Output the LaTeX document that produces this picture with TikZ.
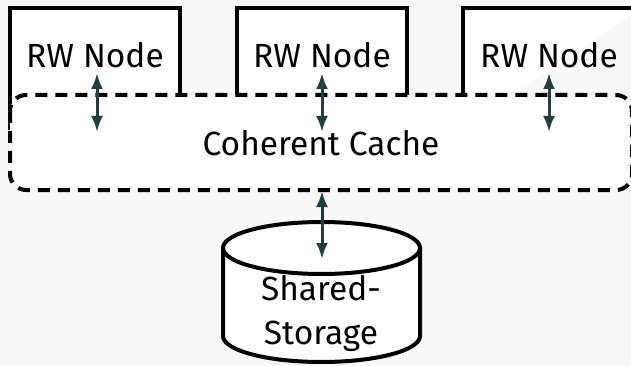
\documentclass[tikz,border=0pt]{standalone}
\usepackage{fontspec}
\setmainfont{Fira Sans}
\usetikzlibrary{arrows.meta}
\definecolor{bgc}{HTML}{F8F8F8}
\definecolor{arrc}{HTML}{233D42}
\begin{document}
\begin{tikzpicture}[x=1pt,y=-1pt,
  box/.style={draw=black,fill=white,line width=4pt},
  lbl/.style={font=\fontsize{33.5}{44}\selectfont,text=black},
  conn/.style={{Latex[length=16pt,width=12pt]}-{Latex[length=16pt,width=12pt]},draw=arrc,line width=3pt}]
\useasboundingbox (0,0) rectangle (631,366);
\fill[bgc] (0,0) rectangle (631,366);
\begin{scope}
\clip (0,0) rectangle (631,366);
% RW node boxes
\draw[box] (10,130) -- (10,8) -- (180,8) -- (180,130);
\draw[box] (237,130) -- (237,8) -- (407,8) -- (407,130);
\draw[box] (463,130) -- (463,8) -- (640,8);
\node[lbl] (n1) at (95,55) {RW Node};
\node[lbl] (n2) at (322,55) {RW Node};
\node[lbl] (n3) at (549,55) {RW Node};
% cache
\draw[fill=white,line width=4pt,dash pattern=on 12pt off 8pt,rounded corners=16pt] (10,95) rectangle (632,190);
\node[lbl] (cache) at (321,143) {Coherent Cache};
% storage cylinder
\draw[box] (223,248) -- (223,336) arc[start angle=180,end angle=0,x radius=98.5,y radius=26] -- (420,248);
\draw[box] (321.5,248) ellipse[x radius=98.5,y radius=26];
\node[lbl,align=center] (st) at (321,314) {Shared-\\Storage};
\coordinate (a1t) at (97,73);  \coordinate (a1b) at (97,132);
\coordinate (a2t) at (322,73); \coordinate (a2b) at (322,132);
\coordinate (a3t) at (549,73); \coordinate (a3b) at (549,132);
\coordinate (a4t) at (322,191); \coordinate (a4b) at (322,259);
\draw[conn] (a1t) -- (a1b);
\draw[conn] (a2t) -- (a2b);
\draw[conn] (a3t) -- (a3b);
\draw[conn] (a4t) -- (a4b);
\end{scope}
\end{tikzpicture}
\end{document}
